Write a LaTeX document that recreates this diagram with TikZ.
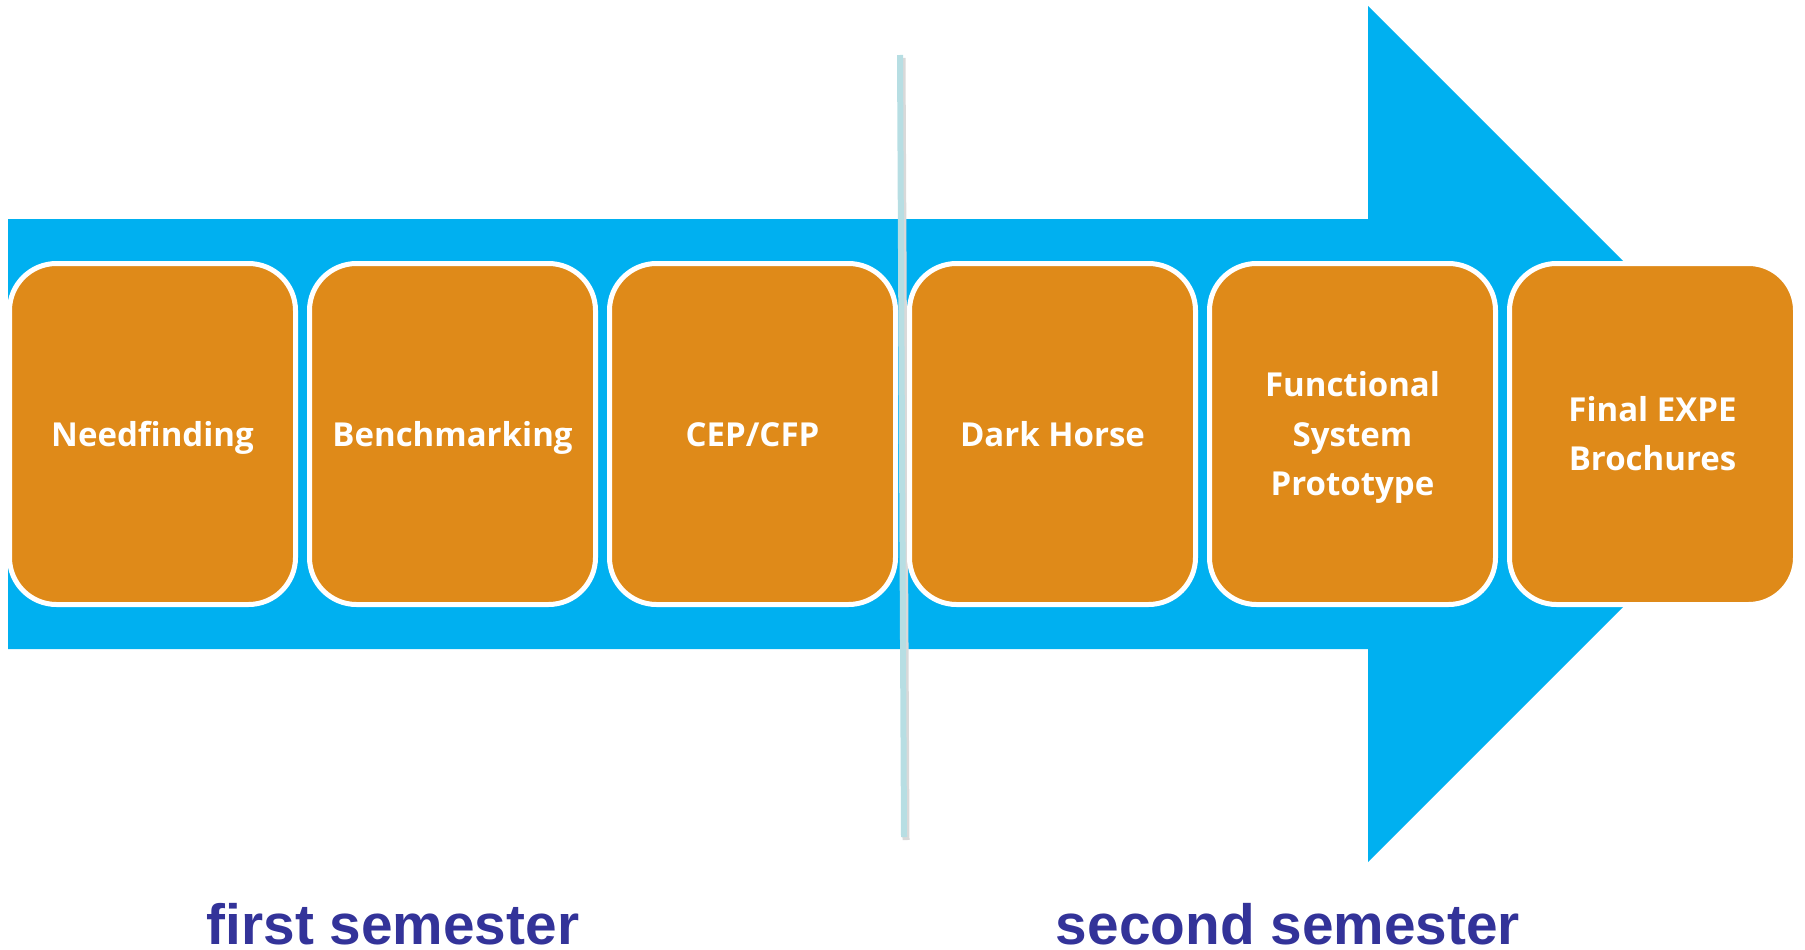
\documentclass[tikz,border=0pt]{standalone}
\usepackage{fontspec}
\setmainfont{Open Sans}
\newfontfamily\arialfont{Liberation Sans}
\definecolor{arrowblue}{HTML}{00B0F0}
\definecolor{boxorange}{HTML}{DF8A19}
\definecolor{semblue}{HTML}{333399}
\definecolor{linecol}{HTML}{B7DEE3}
\newcommand\stagestrut{\rule[-12.75pt]{0pt}{49.5pt}}
\begin{document}
\begin{tikzpicture}[x=1pt,y=-1pt,
  stage/.style={draw=white, line width=5pt, fill=boxorange, rounded corners=47pt,
    minimum width=286pt, minimum height=341pt, inner sep=0pt,
    text=white, align=center, font=\fontsize{33}{49.5}\selectfont\bfseries},
  semlabel/.style={anchor=base, inner sep=0pt, text depth=0pt, text=semblue,
    font=\arialfont\fontsize{56.8}{60}\selectfont\bfseries}]
\useasboundingbox (0,0) rectangle (1805,950);
% big arrow
\fill[arrowblue] (8,219) -- (1368,219) -- (1368,6) -- (1796,434) -- (1368,862) -- (1368,649) -- (8,649) -- cycle;
% divider line with soft shadow
\draw[black!15, line width=7pt] (902,58) -- (906,840);
\draw[linecol, line width=6pt] (900,55) -- (904,837);
% stages
\node[stage] (s1) at (152.5,434) {\stagestrut Needfinding};
\node[stage] (s2) at (452.5,434) {\stagestrut Benchmarking};
\node[stage] (s3) at (752.5,434) {\stagestrut CEP/CFP};
\node[stage] (s4) at (1052.5,434) {\stagestrut Dark Horse};
\node[stage] (s5) at (1352.5,434) {\stagestrut Functional\\\stagestrut System\\\stagestrut Prototype};
\node[stage] (s6) at (1652.5,434) {\stagestrut Final EXPE\\\stagestrut Brochures};
% semester labels
\node[semlabel] (first) at (393,944) {first semester};
\node[semlabel] (second) at (1288,944) {second semester};
\end{tikzpicture}
\end{document}
